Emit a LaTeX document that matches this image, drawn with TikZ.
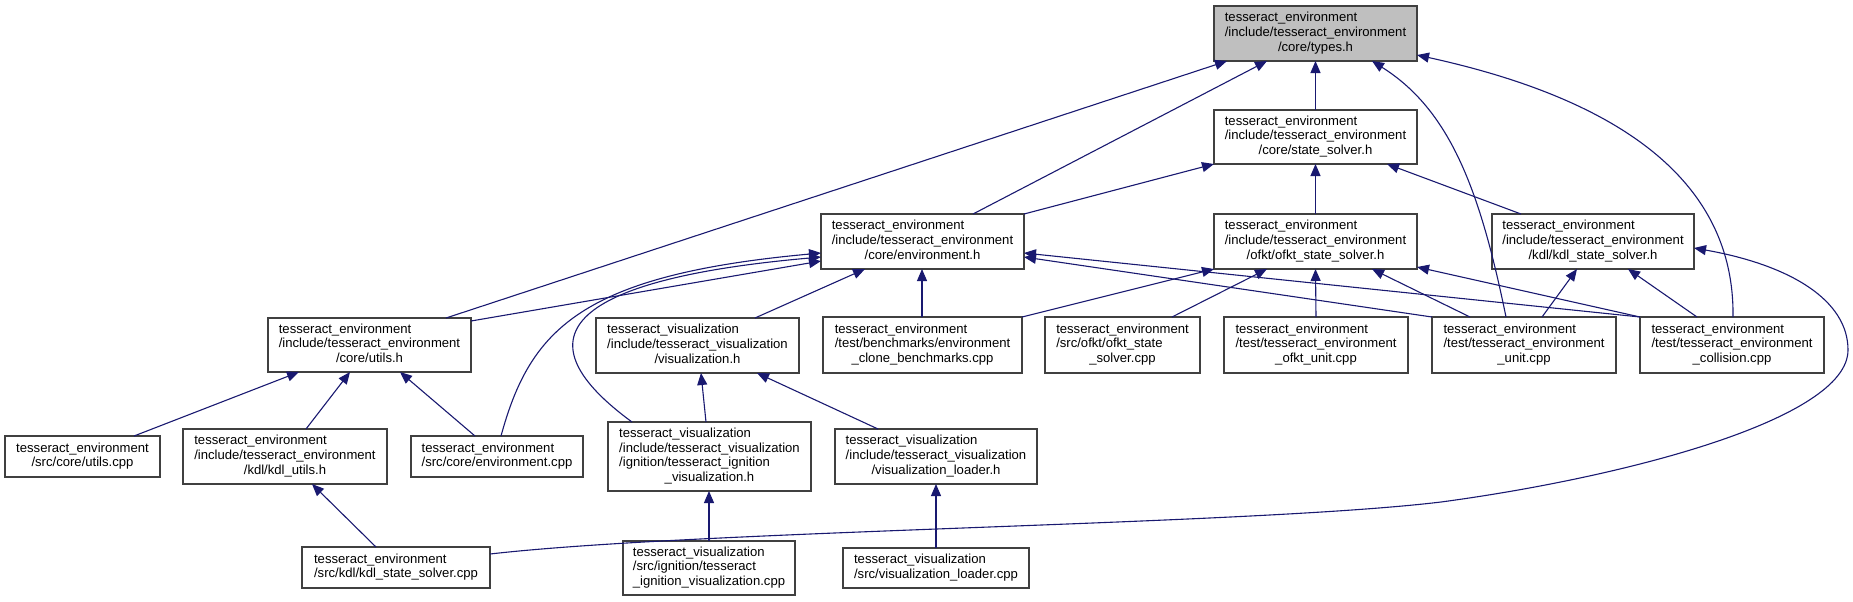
\documentclass[tikz,border=0pt]{standalone}
\usepackage{fontspec}
\setmainfont{Liberation Sans}
\usetikzlibrary{arrows.meta}
\newdimen\px \px=0.5pt
\definecolor{edgecol}{HTML}{191970}
\definecolor{boxline}{HTML}{404040}
\definecolor{rootfill}{HTML}{BFBFBF}
\newcommand\lbl[2]{\begin{tabular}{@{}l@{}}#1\\\multicolumn{1}{@{}c@{}}{#2}\end{tabular}}
\tikzset{
  box/.style={draw=boxline, line width=0.65pt, fill=white, inner sep=0pt, outer sep=0pt, rectangle,
    font=\fontsize{6.55pt}{7.35pt}\selectfont, text=black},
  edge/.style={draw=edgecol, line width=0.55pt, -{Triangle[length=6pt,width=5pt]}}
}
\begin{document}
\begin{tikzpicture}[x=0.5pt,y=-0.5pt]
\useasboundingbox (0,0) rectangle (1853,601);
% nodes
\node[box,fill=rootfill,minimum width=203\px,minimum height=55\px] (types) at (1315.5,33.5) {\lbl{tesseract\_environment\\/include/tesseract\_environment}{/core/types.h}};
\node[box,minimum width=203\px,minimum height=54\px] (statesolver) at (1315.5,137) {\lbl{tesseract\_environment\\/include/tesseract\_environment}{/core/state\_solver.h}};
\node[box,minimum width=203\px,minimum height=55\px] (envh) at (922.5,241.5) {\lbl{tesseract\_environment\\/include/tesseract\_environment}{/core/environment.h}};
\node[box,minimum width=203\px,minimum height=55\px] (ofkth) at (1315.5,241.5) {\lbl{tesseract\_environment\\/include/tesseract\_environment}{/ofkt/ofkt\_state\_solver.h}};
\node[box,minimum width=202\px,minimum height=55\px] (kdlh) at (1593,241.5) {\lbl{tesseract\_environment\\/include/tesseract\_environment}{/kdl/kdl\_state\_solver.h}};
\node[box,minimum width=203\px,minimum height=54\px] (utilsh) at (369.5,345) {\lbl{tesseract\_environment\\/include/tesseract\_environment}{/core/utils.h}};
\node[box,minimum width=203\px,minimum height=55\px] (vish) at (697.5,345.5) {\lbl{tesseract\_visualization\\/include/tesseract\_visualization}{/visualization.h}};
\node[box,minimum width=199\px,minimum height=56\px] (clone) at (922.5,345) {\lbl{tesseract\_environment\\/test/benchmarks/environment}{\_clone\_benchmarks.cpp}};
\node[box,minimum width=155\px,minimum height=56\px] (ofktcpp) at (1122.5,345) {\lbl{tesseract\_environment\\/src/ofkt/ofkt\_state}{\_solver.cpp}};
\node[box,minimum width=184\px,minimum height=56\px] (ofktunit) at (1316,345) {\lbl{tesseract\_environment\\/test/tesseract\_environment}{\_ofkt\_unit.cpp}};
\node[box,minimum width=184\px,minimum height=56\px] (unitcpp) at (1524,345) {\lbl{tesseract\_environment\\/test/tesseract\_environment}{\_unit.cpp}};
\node[box,minimum width=184\px,minimum height=56\px] (collision) at (1732,345) {\lbl{tesseract\_environment\\/test/tesseract\_environment}{\_collision.cpp}};
\node[box,minimum width=155\px,minimum height=41\px] (utilscpp) at (82.5,456.5) {\lbl{tesseract\_environment}{/src/core/utils.cpp}};
\node[box,minimum width=204\px,minimum height=55\px] (kdlutils) at (285,456.5) {\lbl{tesseract\_environment\\/include/tesseract\_environment}{/kdl/kdl\_utils.h}};
\node[box,minimum width=172\px,minimum height=41\px] (envcpp) at (497,456.5) {\lbl{tesseract\_environment}{/src/core/environment.cpp}};
\node[box,minimum width=203\px,minimum height=69\px] (ignh) at (709.5,456.5) {\lbl{tesseract\_visualization\\/include/tesseract\_visualization\\/ignition/tesseract\_ignition}{\_visualization.h}};
\node[box,minimum width=202\px,minimum height=55\px] (loaderh) at (936,456.5) {\lbl{tesseract\_visualization\\/include/tesseract\_visualization}{/visualization\_loader.h}};
\node[box,minimum width=188\px,minimum height=41\px] (kdlcpp) at (396,567.5) {\lbl{tesseract\_environment}{/src/kdl/kdl\_state\_solver.cpp}};
\node[box,minimum width=172\px,minimum height=54\px] (igncpp) at (709,568) {\lbl{tesseract\_visualization\\/src/ignition/tesseract}{\_ignition\_visualization.cpp}};
\node[box,minimum width=186\px,minimum height=40\px] (loadercpp) at (936,568) {\lbl{tesseract\_visualization}{/src/visualization\_loader.cpp}};
% edges to types.h
\draw[edge] ([xshift=178\px]utilsh.north west) -- ([xshift=13\px]types.south west);
\draw[edge] ([xshift=152\px]envh.north west) -- ([xshift=53\px]types.south west);
\draw[edge] (statesolver.north) -- (types.south);
\draw[edge] ([xshift=74\px]unitcpp.north west) .. controls (1480,190) and (1450,110) .. ([xshift=158\px]types.south west);
\draw[edge] ([xshift=93\px]collision.north west) .. controls (1735,170) and (1600,95) .. ([yshift=-49\px]types.north east);
% edges to state_solver.h
\draw[edge] (envh.north east) -- (statesolver.south west);
\draw[edge] (ofkth.north) -- (statesolver.south);
\draw[edge] ([xshift=29\px]kdlh.north west) -- ([xshift=173\px]statesolver.south west);
% edges to environment.h
\draw[edge] ([yshift=-3\px]utilsh.north east) -- ([yshift=-47\px]envh.north west);
\draw[edge] ([xshift=90\px]envcpp.north west) .. controls (530,330) and (580,275) .. ([yshift=-39\px]envh.north west);
\draw[edge] ([xshift=24\px]ignh.north west) .. controls (520,340) and (560,280) .. ([yshift=-43\px]envh.north west);
\draw[edge] ([xshift=159\px]vish.north west) -- ([xshift=44\px]envh.south west);
\draw[edge] ([xshift=99\px]clone.north west) -- ([xshift=101\px]envh.south west);
\draw[edge] (unitcpp.north west) -- ([yshift=-43\px]envh.north east);
\draw[edge] (collision.north west) -- ([yshift=-39\px]envh.north east);
% edges to ofkt_state_solver.h
\draw[edge] (clone.north east) -- (ofkth.south west);
\draw[edge] ([xshift=127\px]ofktcpp.north west) -- ([xshift=53\px]ofkth.south west);
\draw[edge] (ofktunit.north) -- (ofkth.south);
\draw[edge] ([xshift=38\px]unitcpp.north west) -- ([xshift=158\px]ofkth.south west);
\draw[edge] (collision.north west) -- ([yshift=2\px]ofkth.south east);
% edges to kdl_state_solver.h
\draw[edge] ([xshift=110\px]unitcpp.north west) -- ([xshift=85\px]kdlh.south west);
\draw[edge] ([xshift=57\px]collision.north west) -- ([xshift=136\px]kdlh.south west);
\draw[edge] ([yshift=-7\px]kdlcpp.north east) .. controls (700,530) and (1250,525) .. (1441,502)
  .. controls (1620,478) and (1848,420) .. (1848,350)
  .. controls (1848,300) and (1790,265) .. ([yshift=-34\px]kdlh.north east);
% edges to utils.h
\draw[edge] ([xshift=129\px]utilscpp.north west) -- ([xshift=31\px]utilsh.south west);
\draw[edge] ([xshift=123\px]kdlutils.north west) -- ([xshift=82\px]utilsh.south west);
\draw[edge] ([xshift=64\px]envcpp.north west) -- ([xshift=132\px]utilsh.south west);
% edges to kdl_utils.h
\draw[edge] ([xshift=74\px]kdlcpp.north west) -- ([xshift=129\px]kdlutils.south west);
% edges to visualization.h
\draw[edge] ([xshift=98\px]ignh.north west) -- ([xshift=105\px]vish.south west);
\draw[edge] ([xshift=43\px]loaderh.north west) -- ([xshift=161\px]vish.south west);
% edges to ignition / loader
\draw[edge] ([xshift=86\px]igncpp.north west) -- ([xshift=101\px]ignh.south west);
\draw[edge] ([xshift=93\px]loadercpp.north west) -- ([xshift=101\px]loaderh.south west);
\end{tikzpicture}
\end{document}
